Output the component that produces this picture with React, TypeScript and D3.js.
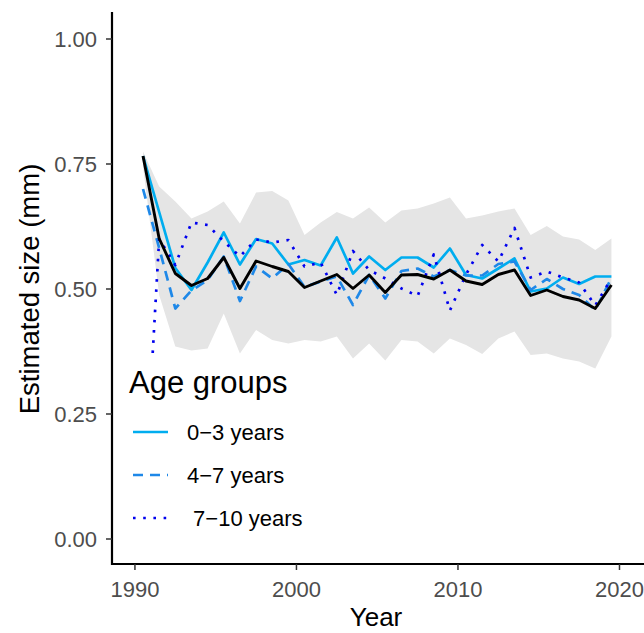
import React from "react";
import * as d3 from "d3";

const years = [1990.5, 1991.5, 1992.5, 1993.5, 1994.5, 1995.5, 1996.5, 1997.5, 1998.5, 1999.5, 2000.5, 2001.5, 2002.5, 2003.5, 2004.5, 2005.5, 2006.5, 2007.5, 2008.5, 2009.5, 2010.5, 2011.5, 2012.5, 2013.5, 2014.5, 2015.5, 2016.5, 2017.5, 2018.5, 2019.5];
const dottedYears = [1991.1, 1991.5, 1992.5, 1993.5, 1994.5, 1995.5, 1996.5, 1997.5, 1998.5, 1999.5, 2000.5, 2001.5, 2002.5, 2003.5, 2004.5, 2005.5, 2006.5, 2007.5, 2008.5, 2009.5, 2010.5, 2011.5, 2012.5, 2013.5, 2014.5, 2015.5, 2016.5, 2017.5, 2018.5, 2019.5];

const overall = [0.766, 0.601, 0.531, 0.507, 0.521, 0.563, 0.501, 0.556, 0.545, 0.535, 0.503, 0.516, 0.529, 0.501, 0.528, 0.493, 0.528, 0.529, 0.520, 0.538, 0.516, 0.509, 0.529, 0.538, 0.487, 0.498, 0.485, 0.478, 0.461, 0.508];
const age0to3 = [0.766, 0.654, 0.542, 0.498, 0.553, 0.613, 0.549, 0.600, 0.591, 0.549, 0.558, 0.547, 0.603, 0.531, 0.565, 0.538, 0.563, 0.563, 0.543, 0.581, 0.528, 0.521, 0.541, 0.561, 0.495, 0.501, 0.523, 0.510, 0.525, 0.525];
const age4to7 = [0.700, 0.582, 0.461, 0.497, 0.518, 0.565, 0.476, 0.545, 0.521, 0.550, 0.504, 0.515, 0.525, 0.468, 0.528, 0.481, 0.536, 0.541, 0.525, 0.538, 0.527, 0.527, 0.550, 0.555, 0.498, 0.520, 0.500, 0.488, 0.458, 0.522];
const age7to10 = [0.372, 0.600, 0.548, 0.633, 0.628, 0.595, 0.565, 0.599, 0.593, 0.598, 0.545, 0.553, 0.488, 0.576, 0.538, 0.521, 0.501, 0.486, 0.569, 0.457, 0.529, 0.588, 0.555, 0.622, 0.523, 0.535, 0.523, 0.513, 0.467, 0.521];
const ribbonUpper = [0.775, 0.705, 0.675, 0.641, 0.655, 0.675, 0.631, 0.693, 0.696, 0.677, 0.608, 0.633, 0.654, 0.641, 0.663, 0.633, 0.657, 0.661, 0.671, 0.683, 0.641, 0.647, 0.655, 0.661, 0.608, 0.626, 0.605, 0.599, 0.578, 0.601];
const ribbonLower = [0.745, 0.488, 0.385, 0.377, 0.381, 0.451, 0.371, 0.418, 0.398, 0.391, 0.398, 0.395, 0.405, 0.361, 0.391, 0.357, 0.398, 0.395, 0.371, 0.401, 0.388, 0.370, 0.401, 0.415, 0.368, 0.371, 0.361, 0.355, 0.341, 0.405];

const xTicks = [1990, 2000, 2010, 2020];
const yTicks = [0, 0.25, 0.5, 0.75, 1.0];
const legendLabels = ["0\u22123 years", "4\u22127 years", " 7\u221210 years"];

const FONT = "'Liberation Sans', Arial, Helvetica, sans-serif";

export default function App() {
  const W = 644, H = 633;
  const left = 112, right = 640, top = 14, bottom = 564;
  const x = d3.scaleLinear().domain([1988.58, 2021.27]).range([left, right]);
  const y = d3.scaleLinear().domain([-0.05, 1.05]).range([bottom, top]);

  const line = d3.line<[number, number]>().x(d => x(d[0])).y(d => y(d[1]));
  const area = d3.area<number>()
    .x((_, i) => x(years[i]))
    .y0((_, i) => y(ribbonLower[i]))
    .y1((_, i) => y(ribbonUpper[i]));

  const pts = (xs: number[], vs: number[]) => vs.map((v, i) => [xs[i], v] as [number, number]);

  const series = [
    { vals: age0to3, xs: years, color: "#00ADEF", dash: undefined as string | undefined },
    { vals: age4to7, xs: years, color: "#1E88E8", dash: "10 7" },
    { vals: age7to10, xs: dottedYears, color: "#0000EE", dash: "2.6 7.6" },
  ];
  const lw = 2.7;

  return (
    <svg width={W} height={H} style={{ position: "absolute", left: 0, top: 0, display: "block", background: "#fff" }}>
      <rect x={0} y={0} width={W} height={H} fill="#fff" />
      <path d={area(ribbonUpper) || ""} fill="#E5E5E5" />
      {series.map((s, k) => (
        <path key={k} d={line(pts(s.xs, s.vals)) || ""} fill="none" stroke={s.color} strokeWidth={lw}
          strokeDasharray={s.dash} strokeLinecap="butt" strokeLinejoin="round" />
      ))}
      <path d={line(pts(years, overall)) || ""} fill="none" stroke="#000" strokeWidth={2.9} strokeLinejoin="round" />

      {/* axes */}
      <line x1={left} x2={left} y1={12} y2={bottom + 1} stroke="#000" strokeWidth={2.2} />
      <line x1={left - 1} x2={644} y1={bottom} y2={bottom} stroke="#000" strokeWidth={2.2} />
      {yTicks.map(t => (
        <g key={t}>
          <line x1={left - 6} x2={left} y1={y(t)} y2={y(t)} stroke="#333" strokeWidth={1.5} />
          <text x={left - 15} y={y(t)} dy="0.36em" textAnchor="end" fontFamily={FONT} fontSize={22} fill="#4D4D4D">{t.toFixed(2)}</text>
        </g>
      ))}
      {xTicks.map(t => (
        <g key={t}>
          <line x1={x(t)} x2={x(t)} y1={bottom} y2={bottom + 6} stroke="#333" strokeWidth={1.5} />
          <text x={x(t)} y={597} textAnchor="middle" fontFamily={FONT} fontSize={22} fill="#4D4D4D">{t}</text>
        </g>
      ))}
      <text x={(left + right) / 2} y={626} textAnchor="middle" fontFamily={FONT} fontSize={26} fill="#000">Year</text>
      <text transform={`translate(39, ${(top + bottom) / 2}) rotate(-90)`} textAnchor="middle" fontFamily={FONT} fontSize={27.5} fill="#000">Estimated size (mm)</text>

      {/* legend */}
      <text x={129} y={393} fontFamily={FONT} fontSize={31} fill="#000">Age groups</text>
      {series.map((s, k) => {
        const ly = 432 + k * 43;
        return (
          <g key={k}>
            <line x1={133} x2={168} y1={ly} y2={ly} stroke={s.color} strokeWidth={lw} strokeDasharray={s.dash} strokeLinecap="butt" />
            <text x={187} y={ly} dy="0.36em" fontFamily={FONT} fontSize={22} fill="#000" style={{ whiteSpace: "pre" }}>{legendLabels[k]}</text>
          </g>
        );
      })}
    </svg>
  );
}
